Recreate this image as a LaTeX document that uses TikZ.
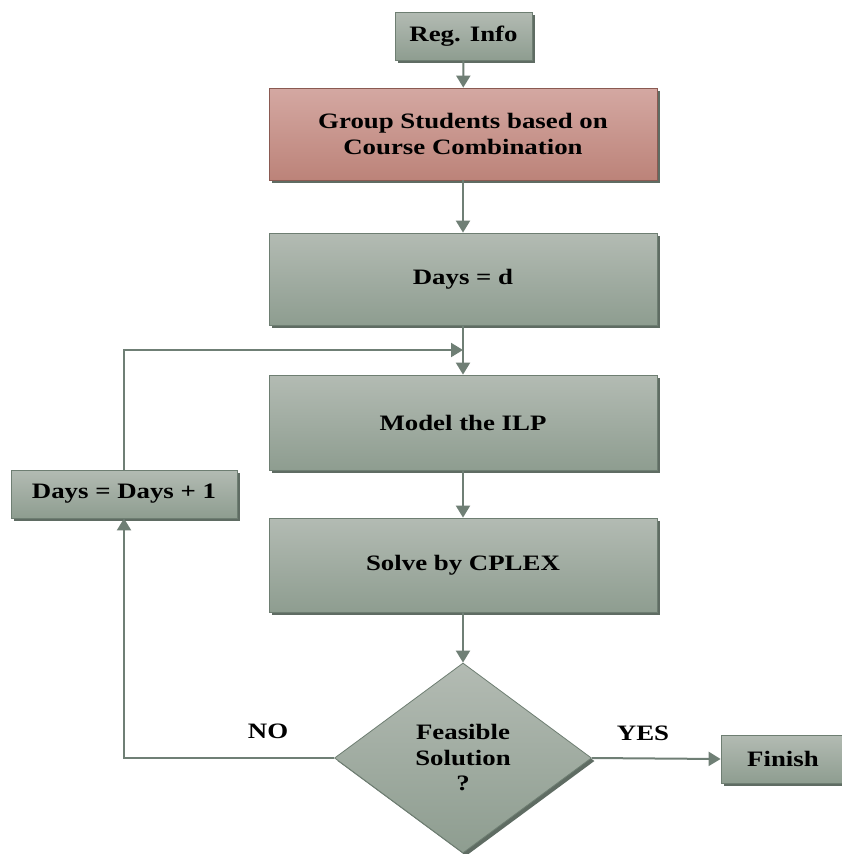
\documentclass[tikz,border=0pt]{standalone}
\usepackage{fontspec}
\setmainfont{Liberation Serif}[FakeStretch=1.22]
\usetikzlibrary{shapes.geometric,arrows.meta,shadows}
\definecolor{boxtop}{HTML}{B3BBB3}
\definecolor{boxbot}{HTML}{8E9D90}
\definecolor{redtop}{HTML}{D4A8A2}
\definecolor{redbot}{HTML}{BC8379}
\definecolor{edge}{HTML}{6E7E72}
\definecolor{redge}{HTML}{8A5A52}
\definecolor{shade}{HTML}{5F6C63}
\definecolor{wire}{HTML}{6F7F75}
\tikzset{
  procbox/.style={rectangle, draw=edge, line width=0.8pt, top color=boxtop, bottom color=boxbot,
    font=\fontsize{22}{25.5}\selectfont\bfseries, align=center, inner sep=0pt,
    drop shadow={shadow xshift=3pt, shadow yshift=-3pt, fill=shade, opacity=1}},
  redbox/.style={procbox, draw=redge, top color=redtop, bottom color=redbot},
  decision/.style={diamond, draw=edge, line width=0.8pt, top color=boxtop, bottom color=boxbot,
    font=\fontsize{22}{25.5}\selectfont\bfseries, align=center, inner sep=0pt,
    minimum width=257pt, minimum height=190pt, aspect=1.35,
    drop shadow={shadow xshift=3pt, shadow yshift=-3pt, fill=shade, opacity=1}},
  flow/.style={draw=wire, line width=2pt, -{Triangle[length=12pt,width=14pt]}},
  lbl/.style={font=\fontsize{22}{25.5}\selectfont\bfseries}
}
\begin{document}
\begin{tikzpicture}[x=1pt,y=-1pt]
  \fill[white] (0,0) rectangle (841,854);
  \useasboundingbox (0,0) rectangle (841,854);

  \node[procbox, minimum width=137pt, minimum height=48pt] (reg) at (463.5,36) {Reg. Info};
  \node[redbox, minimum width=388pt, minimum height=92pt] (group) at (463,134) {Group Students based on\\Course Combination};
  \node[procbox, minimum width=388pt, minimum height=92pt] (days) at (463,279) {Days = d};
  \node[procbox, minimum width=388pt, minimum height=95pt] (model) at (463,422.5) {Model the ILP};
  \node[procbox, minimum width=388pt, minimum height=94pt] (solve) at (463,565) {Solve by CPLEX};
  \node[decision] (dec) at (463,758) {Feasible\\Solution\\?};
  \node[procbox, minimum width=226pt, minimum height=48pt] (inc) at (124,494) {Days = Days + 1};
  \node[procbox, minimum width=124pt, minimum height=48pt] (fin) at (783,759) {Finish};

  \coordinate (loop) at (463,350);

  \draw[flow] (reg) -- (group);
  \draw[flow] (group) -- (days);
  \draw[draw=wire, line width=2pt] (days) -- (loop);
  \draw[flow] (loop) -- (model);
  \draw[flow] (inc.north) |- (loop);
  \draw[flow] (model) -- (solve);
  \draw[flow] (solve) -- (dec);
  \draw[flow] (dec.west) -| (inc.south);
  \draw[flow] (dec.east) -- (fin.west);

  \node[lbl] (no) at (268,731) {NO};
  \node[lbl] (yes) at (643,733) {YES};
\end{tikzpicture}
\end{document}
